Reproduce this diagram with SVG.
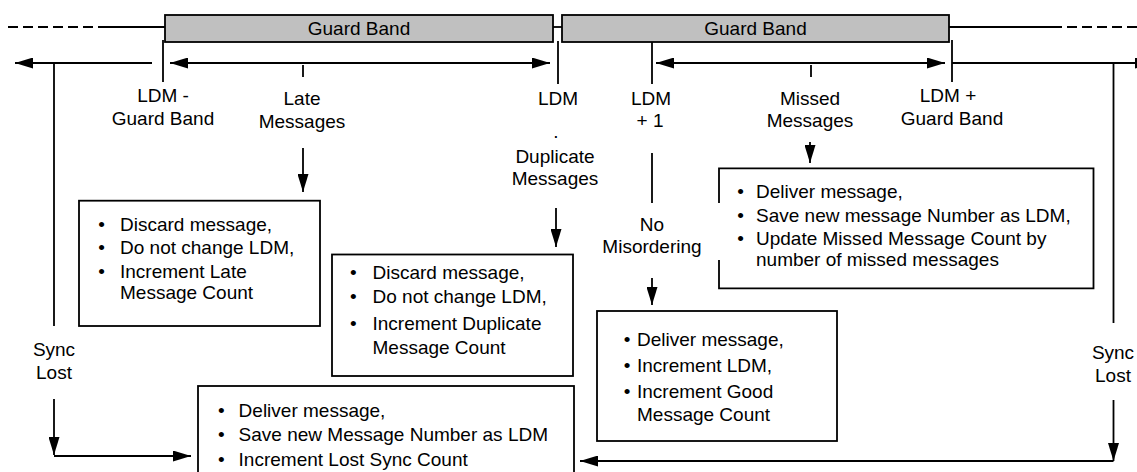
<svg xmlns="http://www.w3.org/2000/svg" width="1137" height="472" viewBox="0 0 1137 472">
<defs>
<style>
text{font-family:"Liberation Sans",Arial,sans-serif;font-size:19px;fill:#000}
.c{text-anchor:middle}
.ln{stroke:#000;stroke-width:1.8;fill:none}
.dash{stroke-dasharray:10 5}
.box{fill:#fff;stroke:#000;stroke-width:1.8}
.gb{fill:#c0c0c0;stroke:#000;stroke-width:1.8}
.arr{marker-end:url(#ah)}
.arr2{marker-start:url(#ah);marker-end:url(#ah)}
</style>
<marker id="ah" markerUnits="userSpaceOnUse" markerWidth="18" markerHeight="11" viewBox="0 0 18 11" refX="18" refY="5.5" orient="auto-start-reverse">
<path d="M0,0 L18,5.5 L0,11 z" fill="#000"/>
</marker>
</defs>
<rect width="1137" height="472" fill="#fff"/>

<g id="connectors">
<line class="ln dash" x1="8" y1="27" x2="100" y2="27"/>
<line class="ln" x1="100" y1="27" x2="165" y2="27"/>
<line class="ln" x1="553" y1="27" x2="562" y2="27"/>
<line class="ln" x1="949" y1="27" x2="1052" y2="27"/>
<line class="ln dash" x1="1052" y1="27" x2="1137" y2="27"/>
<line class="ln" x1="163" y1="40" x2="163" y2="82"/>
<line class="ln" x1="558" y1="41" x2="558" y2="84"/>
<line class="ln" x1="652" y1="42" x2="652" y2="84"/>
<line class="ln" x1="952" y1="40" x2="952" y2="82"/>
<line class="ln arr" x1="152" y1="63" x2="15" y2="63"/>
<line class="ln arr2" x1="170" y1="63" x2="550" y2="63"/>
<line class="ln" x1="303" y1="65" x2="303" y2="77"/>
<line class="ln arr2" x1="656" y1="63" x2="945" y2="63"/>
<line class="ln" x1="811" y1="65" x2="811" y2="77"/>
<line class="ln arr" x1="952" y1="63" x2="1153" y2="63"/>
<line class="ln" x1="54" y1="63" x2="54" y2="326"/>
<line class="ln arr" x1="54" y1="399" x2="54" y2="455"/>
<line class="ln arr" x1="54" y1="456" x2="191" y2="456"/>
<line class="ln" x1="1113.5" y1="63" x2="1113.5" y2="323"/>
<line class="ln arr" x1="1113.5" y1="400" x2="1113.5" y2="461"/>
<line class="ln arr" x1="1113.5" y1="461" x2="580" y2="461"/>
<line class="ln arr" x1="303" y1="148" x2="303" y2="192"/>
<line class="ln arr" x1="556" y1="208" x2="556" y2="247"/>
<line class="ln" x1="652" y1="153" x2="652" y2="203"/>
<line class="ln arr" x1="652" y1="278" x2="652" y2="305"/>
<line class="ln arr" x1="810" y1="142" x2="810" y2="163"/>
</g>

<g id="guard-band-1">
<rect class="gb" x="165" y="15" width="388" height="27"/>
<text class="c" x="359" y="35">Guard Band</text>
</g>
<g id="guard-band-2">
<rect class="gb" x="562" y="15" width="387" height="27"/>
<text class="c" x="755.5" y="35">Guard Band</text>
</g>

<g id="labels">
<text class="c" x="163" y="102">LDM -</text>
<text class="c" x="163" y="125">Guard Band</text>
<text class="c" x="302" y="105">Late</text>
<text class="c" x="302" y="127.5">Messages</text>
<text class="c" x="558" y="104.5">LDM</text>
<text class="c" x="556" y="138">.</text>
<text class="c" x="555" y="163">Duplicate</text>
<text class="c" x="555" y="185">Messages</text>
<text class="c" x="651" y="104.5">LDM</text>
<text class="c" x="650" y="127">+ 1</text>
<text class="c" x="810" y="105">Missed</text>
<text class="c" x="810" y="127">Messages</text>
<text class="c" x="948" y="102">LDM +</text>
<text class="c" x="952" y="125">Guard Band</text>
<text class="c" x="652" y="231">No</text>
<text class="c" x="652" y="253">Misordering</text>
<text class="c" x="54" y="356">Sync</text>
<text class="c" x="54" y="379">Lost</text>
<text class="c" x="1113" y="359">Sync</text>
<text class="c" x="1113" y="382">Lost</text>
</g>

<g id="late-box">
<rect class="box" x="79" y="200.7" width="241" height="125.3"/>
<text class="c" x="101.5" y="230.5">•</text><text x="120" y="230.5">Discard message,</text>
<text class="c" x="101.5" y="254">•</text><text x="120" y="254">Do not change LDM,</text>
<text class="c" x="101.5" y="277.5">•</text><text x="120" y="277.5">Increment Late</text>
<text x="120" y="299">Message Count</text>
</g>

<g id="duplicate-box">
<rect class="box" x="332" y="254.5" width="241" height="121.5"/>
<text class="c" x="353.3" y="279">•</text><text x="372.5" y="279">Discard message,</text>
<text class="c" x="353.3" y="303">•</text><text x="372.5" y="303">Do not change LDM,</text>
<text class="c" x="353.3" y="330">•</text><text x="372.5" y="330">Increment Duplicate</text>
<text x="372.5" y="354">Message Count</text>
</g>

<g id="missed-box">
<rect x="719" y="168.3" width="374.5" height="120" fill="#fff"/>
<path class="ln" d="M719,203 V168.3 H1093.5 V288.3 H719 V260"/>
<text class="c" x="740.7" y="198.3">•</text><text x="756" y="198.3">Deliver message,</text>
<text class="c" x="740.7" y="221.7">•</text><text x="756" y="221.7">Save new message Number as LDM,</text>
<text class="c" x="740.7" y="245">•</text><text x="756" y="245">Update Missed Message Count by</text>
<text x="756" y="265.5">number of missed messages</text>
</g>

<g id="good-box">
<rect class="box" x="597" y="311" width="240" height="130"/>
<text class="c" x="627" y="345.6">•</text><text x="637" y="345.6">Deliver message,</text>
<text class="c" x="627" y="372">•</text><text x="637" y="372">Increment LDM,</text>
<text class="c" x="627" y="398">•</text><text x="637" y="398">Increment Good</text>
<text x="637" y="420.5">Message Count</text>
</g>

<g id="lost-sync-box">
<rect class="box" x="198" y="386" width="376" height="90"/>
<text class="c" x="221.4" y="416.5">•</text><text x="238.6" y="416.5">Deliver message,</text>
<text class="c" x="221.4" y="441">•</text><text x="238.6" y="441">Save new Message Number as LDM</text>
<text class="c" x="221.4" y="466">•</text><text x="238.6" y="466">Increment Lost Sync Count</text>
</g>
</svg>
